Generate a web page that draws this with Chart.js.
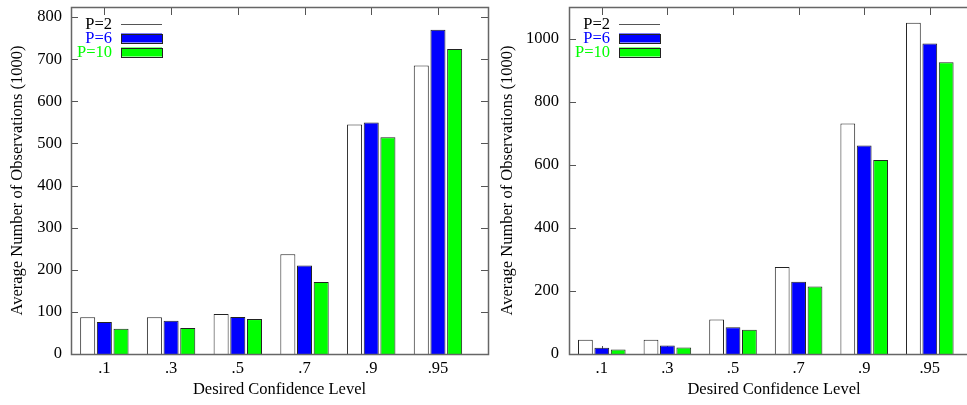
<!DOCTYPE html>
<html>
<head>
<meta charset="utf-8">
<script src="https://cdn.jsdelivr.net/npm/chart.js@4/dist/chart.umd.min.js"></script>
<style>
  html, body { margin: 0; padding: 0; background: #fff; overflow: hidden; width: 967px; height: 405px; }
  canvas { position: absolute; top: 0; }
  #leftChart { left: 0; }
  #rightChart { left: 487px; }
</style>
</head>
<body>
<canvas id="leftChart" width="490" height="405"></canvas>
<canvas id="rightChart" width="494" height="405"></canvas>
<script>
const levels = ['.1', '.3', '.5', '.7', '.9', '.95'];
const seriesNames = ['P=2', 'P=6', 'P=10'];

// left panel
const leftP2 = [87, 87, 95, 237, 545, 685];
const leftP6 = [76, 79, 88, 210, 550, 770];
const leftP10 = [60, 62, 83, 171, 515, 724];

// right panel
const rightP2 = [45, 45, 109, 276, 731, 1050];
const rightP6 = [20, 27, 85, 229, 661, 984];
const rightP10 = [14, 21, 77, 214, 615, 925];

const fills = ['#ffffff', '#0000ff', '#00ff00'];
const textColors = ['#000000', '#0000ff', '#00ff00'];
const FONT = { family: '"Liberation Serif", "Times New Roman", serif', size: 16.5 };

// gnuplot style frame, inward ticks and key
const framePlugin = {
  id: 'frame',
  beforeDatasetsDraw(chart) {
    const { ctx, chartArea: a, scales: { x } } = chart;
    ctx.save();
    ctx.strokeStyle = '#555';
    ctx.lineWidth = 1;
    ctx.beginPath();
    levels.forEach((l, i) => {
      const px = Math.round(x.getPixelForValue(i)) + 0.5;
      ctx.moveTo(px, a.bottom);
      ctx.lineTo(px, a.bottom - 8);
    });
    ctx.stroke();
    ctx.restore();
  },
  afterDatasetsDraw(chart) {
    const { ctx, chartArea: a, scales: { x, y } } = chart;
    ctx.save();
    ctx.strokeStyle = '#555';
    ctx.lineWidth = 1;
    ctx.beginPath();
    levels.forEach((l, i) => {
      const px = Math.round(x.getPixelForValue(i)) + 0.5;
      ctx.moveTo(px, a.top);
      ctx.lineTo(px, a.top + 8);
    });
    y.ticks.forEach(t => {
      const py = Math.round(y.getPixelForValue(t.value)) + 0.5;
      ctx.moveTo(a.left, py);
      ctx.lineTo(a.left + 7, py);
      ctx.moveTo(a.right, py);
      ctx.lineTo(a.right - 7, py);
    });
    ctx.stroke();
    ctx.lineWidth = 1.5;
    ctx.strokeStyle = '#666';
    ctx.strokeRect(Math.round(a.left) + 0.5, Math.round(a.top) + 0.5,
      Math.round(a.right - a.left), Math.round(a.bottom - a.top));

    // key
    ctx.font = FONT.size + 'px ' + FONT.family;
    ctx.textAlign = 'right';
    ctx.textBaseline = 'middle';
    const rows = [17, 31, 45];
    seriesNames.forEach((name, i) => {
      const cy = a.top + rows[i];
      ctx.fillStyle = textColors[i];
      ctx.fillText(name, a.left + 41, cy + 1);
      const sx = a.left + 50, sw = 41;
      if (i === 0) {
        ctx.strokeStyle = '#555';
        ctx.lineWidth = 1;
        ctx.beginPath();
        ctx.moveTo(sx, Math.round(cy) + 0.5);
        ctx.lineTo(sx + sw, Math.round(cy) + 0.5);
        ctx.stroke();
      } else {
        ctx.fillStyle = fills[i];
        ctx.fillRect(sx, cy - 4.5, sw, 9);
        ctx.strokeStyle = '#222';
        ctx.lineWidth = 1;
        ctx.strokeRect(sx + 0.5, Math.round(cy - 4.5) + 0.5, sw, 9);
      }
    });
    ctx.restore();
  }
};

function noPad(s) {
  s.paddingTop = 0;
  s.paddingBottom = 0;
  s.paddingLeft = 0;
  s.paddingRight = 0;
}

function makeChart(id, series, yMax, yStep, yTitlePad, yTickPad, yWidth) {
  return new Chart(document.getElementById(id), {
    type: 'bar',
    data: {
      datasets: series.map((vals, i) => ({
        label: seriesNames[i],
        data: vals.map((v, j) => ({ x: j, y: v })),
        backgroundColor: fills[i],
        borderColor: '#222',
        borderWidth: 1,
        categoryPercentage: 0.75,
        barPercentage: 0.9
      }))
    },
    options: {
      responsive: false,
      animation: false,
      layout: { padding: { top: 7, right: 2, bottom: 0, left: 0 } },
      plugins: { legend: { display: false }, tooltip: { enabled: false } },
      scales: {
        x: {
          type: 'linear',
          offset: false,
          min: -0.5,
          max: 5.75,
          grid: { display: false, drawTicks: false, offset: false },
          border: { display: false },
          afterBuildTicks: s => { s.ticks = levels.map((l, i) => ({ value: i })); },
          afterFit: s => { s.height = 51; noPad(s); },
          ticks: {
            callback: v => levels[v],
            font: FONT,
            color: '#000',
            padding: 5,
            maxRotation: 0,
            autoSkip: false
          },
          title: {
            display: true,
            text: 'Desired Confidence Level',
            font: FONT,
            color: '#000',
            padding: { top: 0, bottom: 5 }
          }
        },
        y: {
          min: 0,
          max: yMax,
          grid: { display: false, drawTicks: false },
          border: { display: false },
          afterFit: s => { s.width = yWidth; noPad(s); },
          ticks: {
            stepSize: yStep,
            includeBounds: false,
            callback: v => String(v),
            font: FONT,
            color: '#000',
            padding: yTickPad
          },
          title: {
            display: true,
            text: 'Average Number of Observations (1000)',
            font: FONT,
            color: '#000',
            padding: { top: yTitlePad, bottom: 0 }
          }
        }
      }
    },
    plugins: [framePlugin]
  });
}

makeChart('leftChart', [leftP2, leftP6, leftP10], 824, 100, 8, 9, 71);
makeChart('rightChart', [rightP2, rightP6, rightP10], 1100, 200, 11, 10, 82);
</script>
</body>
</html>
